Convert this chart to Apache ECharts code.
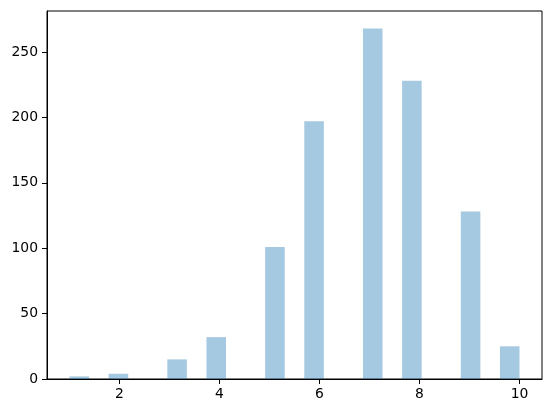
<!DOCTYPE html>
<html>
<head>
<meta charset="utf-8">
<script src="https://cdn.jsdelivr.net/npm/echarts@6/dist/echarts.min.js"></script>
<style>
html,body{margin:0;padding:0;background:#fff;}
#chart{width:552px;height:413px;}
</style>
</head>
<body>
<div id="chart"></div>
<script>
// Data: observed discrete values and their counts (histogram with 23 bins over [1,10])
const values = [1, 2, 3, 4, 5, 6, 7, 8, 9, 10];
const counts = [2, 4, 15, 32, 101, 197, 268, 228, 128, 25];
const binCount = 23;
const dataMin = 1, dataMax = 10;
const xTicks = [2, 4, 6, 8, 10];
const yTicks = [0, 50, 100, 150, 200, 250];

const binWidth = (dataMax - dataMin) / binCount;
const bars = values.map((v, i) => {
  let idx = Math.floor((v - dataMin) / binWidth);
  if (idx >= binCount) idx = binCount - 1;
  const x0 = dataMin + idx * binWidth;
  return [x0, x0 + binWidth, counts[i]];
});
const xPad = (dataMax - dataMin) * 0.05;
const yMax = Math.max(...counts) * 1.05;

const chart = echarts.init(document.getElementById('chart'), null, {renderer: 'canvas'});
const font = {fontFamily: 'DejaVu Sans', fontSize: 13.9, color: '#000'};
chart.setOption({
  animation: false,
  grid: {left: 47, right: 10, top: 11, bottom: 34, show: true, borderColor: '#000', borderWidth: 1, backgroundColor: 'transparent'},
  xAxis: {
    type: 'value', min: dataMin - xPad, max: dataMax + xPad,
    splitLine: {show: false},
    axisLine: {show: true, onZero: false, lineStyle: {color: '#000', width: 1}},
    axisTick: {show: true, inside: false, length: 5, lineStyle: {color: '#000', width: 1}, customValues: xTicks},
    axisLabel: Object.assign({margin: 8, customValues: xTicks}, font)
  },
  yAxis: {
    type: 'value', min: 0, max: yMax,
    splitLine: {show: false},
    axisLine: {show: true, lineStyle: {color: '#000', width: 1}},
    axisTick: {show: true, inside: false, length: 5, lineStyle: {color: '#000', width: 1}, customValues: yTicks},
    axisLabel: Object.assign({margin: 9, customValues: yTicks}, font)
  },
  series: [{
    type: 'custom',
    data: bars,
    encode: {x: [0, 1], y: 2},
    renderItem: function (params, api) {
      const p0 = api.coord([api.value(0), 0]);
      const p1 = api.coord([api.value(1), api.value(2)]);
      return {
        type: 'rect',
        shape: {x: p0[0], y: p1[1], width: p1[0] - p0[0], height: p0[1] - p1[1]},
        style: {fill: 'rgba(31,119,180,0.4)'}
      };
    }
  }]
});
</script>
</body>
</html>
